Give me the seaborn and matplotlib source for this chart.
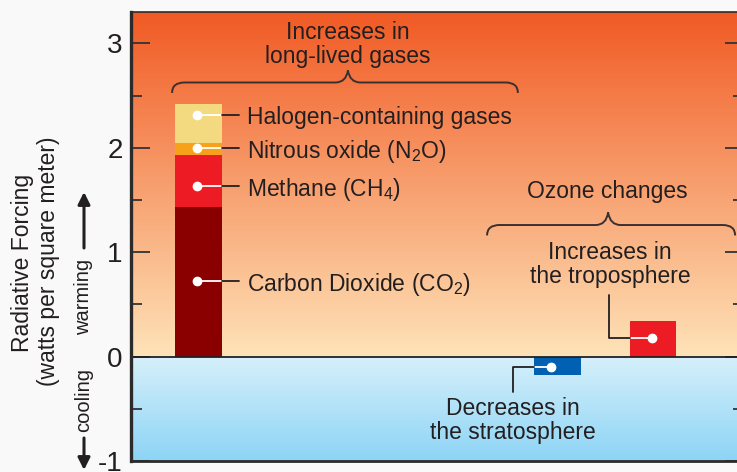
import matplotlib
matplotlib.use('Agg')
import matplotlib.pyplot as plt
from matplotlib.path import Path
from matplotlib.patches import PathPatch
from matplotlib.colors import LinearSegmentedColormap
from matplotlib.ticker import MultipleLocator
import numpy as np
import pandas as pd
import seaborn as sns

# long-lived gases, stacked from the bottom up (W/m2)
gas_keys = ['co2', 'ch4', 'n2o', 'halo']
gas_labels = [r'Carbon Dioxide (CO$_\mathregular{2}$)', r'Methane (CH$_\mathregular{4}$)',
              r'Nitrous oxide (N$_\mathregular{2}$O)', 'Halogen-containing gases']
gas_forcing = [1.43, 0.50, 0.12, 0.37]
gas_colors = ['#8a0000', '#ed1c24', '#f7a11a', '#f3d97f']

# ozone changes (W/m2)
ozone_keys = ['strat', 'trop']
ozone_labels = ['Decreases in\nthe stratosphere', 'Increases in\nthe troposphere']
ozone_forcing = [-0.18, 0.34]
ozone_colors = ['#0061b2', '#ed1c24']

y_ticks = [-1, 0, 1, 2, 3]
y_ticklabels = ['-1', '0', '1', '2', '3']

dark = '#231f20'

sns.set_theme(style='ticks')
plt.rcParams['font.family'] = ['Liberation Sans', 'DejaVu Sans']
plt.rcParams['mathtext.fontset'] = 'custom'
plt.rcParams['mathtext.rm'] = 'Liberation Sans'
plt.rcParams['axes.unicode_minus'] = False

# layout: x in "bar slots"
bar_x = [0.0, 3.76, 4.76]
half = 0.245
xl, xr = -0.707, 5.713
ytop = 3.3

fig = plt.figure(figsize=(7.37, 4.72), dpi=100, facecolor='#f9f9f9')
ax = fig.add_axes([131 / 737, 11 / 472, 613 / 737, 449 / 472])

# background gradients
warm = LinearSegmentedColormap.from_list('warm', ['#fee3b8', '#f15a24'])
cool = LinearSegmentedColormap.from_list('cool', ['#8dd4f5', '#d6f0fb'])
grad = np.linspace(0, 1, 256).reshape(-1, 1)
ax.imshow(grad, extent=[xl, xr, 0, ytop], origin='lower', aspect='auto', cmap=warm, zorder=0)
ax.imshow(grad, extent=[xl, xr, -1, 0], origin='lower', aspect='auto', cmap=cool, zorder=0)

# bars: stacked bar drawn as overlapping cumulative bars, tallest first
tops = np.cumsum(gas_forcing)
rows = [(bar_x[0], t, k) for k, t in zip(gas_keys[::-1], tops[::-1])]
rows += [(x, v, k) for x, v, k in zip(bar_x[1:], ozone_forcing, ozone_keys)]
df = pd.DataFrame(rows, columns=['x', 'forcing', 'part'])
palette = dict(zip(gas_keys + ozone_keys, gas_colors + ozone_colors))
sns.barplot(data=df, x='x', y='forcing', hue='part', hue_order=list(df['part']),
            palette=palette, native_scale=True, dodge=False, width=2 * half,
            saturation=1, linewidth=0, errorbar=None, legend=False, ax=ax, zorder=2)

ax.axhline(0, color=dark, lw=1.3, zorder=3)

# gas labels with leader lines
label_y = [0.72, 1.63, 2.0, 2.31]
for name, ly in zip(gas_labels, label_y):
    ax.plot([bar_x[0] - 0.02, bar_x[0] + half], [ly, ly], color='white', lw=1.3, zorder=4)
    ax.plot([bar_x[0] + half, bar_x[0] + 0.425], [ly, ly], color=dark, lw=1.3, zorder=4)
    ax.plot(bar_x[0] - 0.02, ly, 'o', color='white', ms=6, zorder=5)
    ax.text(bar_x[0] + 0.505, ly, name, ha='left', va='center_baseline', fontsize=16.5, color=dark)

# stratosphere label
sx, sy = bar_x[1] - 0.07, -0.1
ax.plot([sx, bar_x[1] - half], [sy, sy], color='white', lw=1.3, zorder=4)
ax.plot([bar_x[1] - half, bar_x[1] - 0.466, bar_x[1] - 0.466], [sy, sy, -0.337], color=dark, lw=1.3, zorder=4)
ax.plot(sx, sy, 'o', color='white', ms=6, zorder=5)
ax.text(bar_x[1] - 0.466, -0.61, ozone_labels[0], ha='center', va='center', fontsize=16.5,
        color=dark, linespacing=1.05)

# troposphere label
tx, ty = bar_x[2] - 0.014, 0.18
ax.plot([tx, bar_x[2] - half], [ty, ty], color='white', lw=1.3, zorder=4)
ax.plot([bar_x[2] - half, bar_x[2] - 0.46, bar_x[2] - 0.46], [ty, ty, 0.59], color=dark, lw=1.3, zorder=4)
ax.plot(tx, ty, 'o', color='white', ms=6, zorder=5)
ax.text(bar_x[2] - 0.45, 0.88, ozone_labels[1], ha='center', va='center', fontsize=16.5,
        color=dark, linespacing=1.05)


def brace(ax, x0, x1, xm, y, rise, drop, rx=0.13):
    verts = [(x0, y - drop), (x0, y), (x0 + rx, y),
             (xm - rx, y), (xm - 0.02, y), (xm, y + rise),
             (xm + 0.02, y), (xm + rx, y),
             (x1 - rx, y), (x1, y), (x1, y - drop)]
    codes = [Path.MOVETO, Path.CURVE3, Path.CURVE3, Path.LINETO, Path.CURVE3, Path.CURVE3,
             Path.CURVE3, Path.CURVE3, Path.LINETO, Path.CURVE3, Path.CURVE3]
    ax.add_patch(PathPatch(Path(verts, codes), fill=False, edgecolor='#3a3030', lw=1.4, zorder=4))


brace(ax, bar_x[0] - 0.277, bar_x[0] + 3.345, bar_x[0] + 1.565, 2.625, 0.115, 0.1)
ax.text(bar_x[0] + 1.565, 2.99, 'Increases in\nlong-lived gases', ha='center', va='center',
        fontsize=16.5, color=dark, linespacing=1.05)

brace(ax, bar_x[2] - 1.738, bar_x[2] + 0.86, bar_x[2] - 0.47, 1.26, 0.12, 0.1)
ax.text(bar_x[2] - 0.48, 1.52, 'Ozone changes', ha='center', va='baseline', fontsize=16.5, color=dark)

# axes styling
ax.set_xlim(xl, xr)
ax.set_ylim(-1, ytop)
ax.set_xticks([])
ax.set_xlabel('')
ax.set_ylabel('')
ax.set_yticks(y_ticks)
ax.set_yticklabels(y_ticklabels)
ax.yaxis.set_minor_locator(MultipleLocator(0.5))
ax.tick_params(axis='y', which='both', direction='in', left=True, right=True, color='#333333',
               width=1.3, labelsize=20, labelcolor=dark, pad=6)
ax.tick_params(axis='y', which='major', length=14)
ax.tick_params(axis='y', which='minor', length=8)
ax.spines['right'].set_visible(False)
ax.spines['left'].set_linewidth(2.4)
ax.spines['bottom'].set_linewidth(2.0)
ax.spines['top'].set_linewidth(1.2)
for s in ax.spines.values():
    s.set_color('#2b2b2b')
    s.set_zorder(6)

# axis titles outside the frame
fig.text(23 / 737, 1 - 263 / 472, 'Radiative Forcing', rotation=90, ha='center', va='center',
         fontsize=16.5, color=dark)
fig.text(49 / 737, 1 - 261 / 472, '(watts per square meter)', rotation=90, ha='center', va='center',
         fontsize=16.5, color=dark)
fig.text(84 / 737, 1 - 297 / 472, 'warming', rotation=90, ha='center', va='center', fontsize=14.5, color=dark)
fig.text(84 / 737, 1 - 400 / 472, 'cooling', rotation=90, ha='center', va='center', fontsize=14.5, color=dark)
arrow = dict(arrowstyle='-|>', lw=2.2, color=dark, mutation_scale=18, shrinkA=0, shrinkB=0)
ax.annotate('', xy=(84, 472 - 192), xytext=(84, 472 - 248), xycoords='figure pixels',
            textcoords='figure pixels', arrowprops=arrow, annotation_clip=False)
ax.annotate('', xy=(84, 472 - 470), xytext=(84, 472 - 438), xycoords='figure pixels',
            textcoords='figure pixels', arrowprops=arrow, annotation_clip=False)

fig.savefig('out.png', dpi=100, facecolor=fig.get_facecolor())
